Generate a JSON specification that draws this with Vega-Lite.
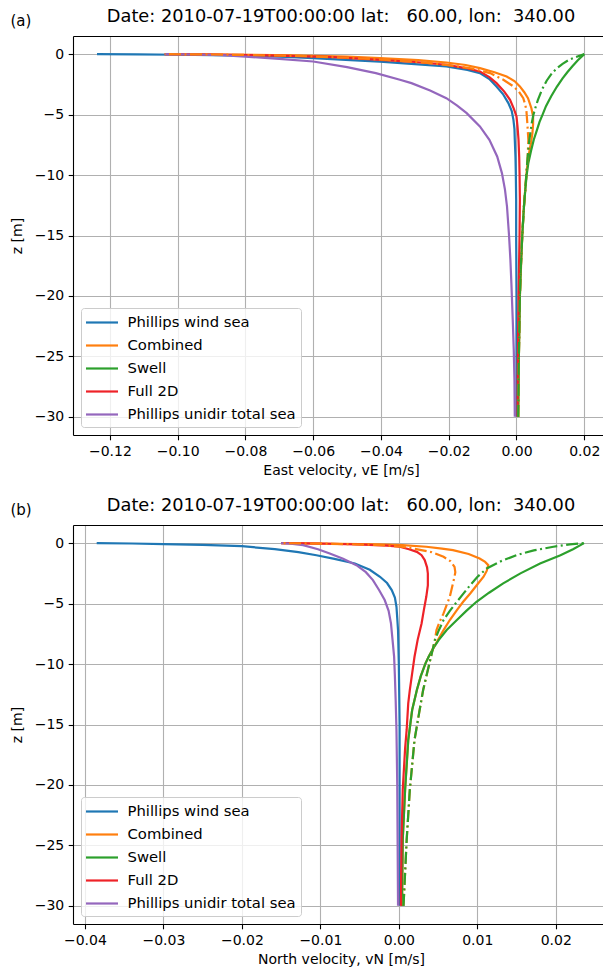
{
  "$schema": "https://vega.github.io/schema/vega-lite/v6.json",
  "autosize": {"type": "pad"},
  "padding": {"left": 10, "top": 8, "right": 0, "bottom": 0},
  "config": {
    "font": "DejaVu Sans",
    "view": {"stroke": null},
    "axis": {
      "labelFont": "DejaVu Sans", "labelFontSize": 14, "labelColor": "#000",
      "titleFont": "DejaVu Sans", "titleFontSize": 14, "titleFontWeight": "normal", "titleColor": "#000",
      "domainColor": "#000", "domainWidth": 1.1, "tickColor": "#000", "tickWidth": 1.1, "tickSize": 4.8,
      "labelPadding": 4.5, "gridColor": "#b0b0b0", "gridWidth": 1.1, "labelFlush": false, "labelOverlap": false
    },
    "legend": {
      "orient": "bottom-left", "offset": 8, "title": null,
      "fillColor": "rgba(255,255,255,0.8)", "strokeColor": "#cccccc", "cornerRadius": 3, "padding": 5,
      "symbolType": "M-2,0H2", "symbolSize": 256, "symbolStrokeWidth": 2.2, "symbolOffset": 6.5,
      "labelOffset": 16, "labelFont": "DejaVu Sans", "labelFontSize": 14.8, "labelColor": "#000", "labelLimit": 400,
      "rowPadding": 6
    },
    "title": {"font": "DejaVu Sans", "fontSize": 17.8, "fontWeight": "normal", "color": "#000"}
  },
  "datasets": {
    "a": [
      {"s":"Phillips wind sea","k":"solid","z":0,"v":-0.1238},
      {"s":"Phillips wind sea","k":"solid","z":-0.02,"v":-0.112},
      {"s":"Phillips wind sea","k":"solid","z":-0.05,"v":-0.100},
      {"s":"Phillips wind sea","k":"solid","z":-0.12,"v":-0.080},
      {"s":"Phillips wind sea","k":"solid","z":-0.22,"v":-0.068},
      {"s":"Phillips wind sea","k":"solid","z":-0.33,"v":-0.060},
      {"s":"Phillips wind sea","k":"solid","z":-0.5,"v":-0.049},
      {"s":"Phillips wind sea","k":"solid","z":-0.62,"v":-0.0403},
      {"s":"Phillips wind sea","k":"solid","z":-0.82,"v":-0.030},
      {"s":"Phillips wind sea","k":"solid","z":-1.02,"v":-0.0207},
      {"s":"Phillips wind sea","k":"solid","z":-1.3,"v":-0.0145},
      {"s":"Phillips wind sea","k":"solid","z":-1.57,"v":-0.0108},
      {"s":"Phillips wind sea","k":"solid","z":-2.06,"v":-0.0080},
      {"s":"Phillips wind sea","k":"solid","z":-2.68,"v":-0.0059},
      {"s":"Phillips wind sea","k":"solid","z":-3.3,"v":-0.0040},
      {"s":"Phillips wind sea","k":"solid","z":-4.05,"v":-0.0024},
      {"s":"Phillips wind sea","k":"solid","z":-4.7,"v":-0.0014},
      {"s":"Phillips wind sea","k":"solid","z":-5.43,"v":-0.0009},
      {"s":"Phillips wind sea","k":"solid","z":-6.2,"v":-0.0006},
      {"s":"Phillips wind sea","k":"solid","z":-7.08,"v":-0.0005},
      {"s":"Phillips wind sea","k":"solid","z":-8.5,"v":-0.0003},
      {"s":"Phillips wind sea","k":"solid","z":-9.84,"v":-0.0002},
      {"s":"Phillips wind sea","k":"solid","z":-12,"v":-0.0001},
      {"s":"Phillips wind sea","k":"solid","z":-15,"v":-0.0001},
      {"s":"Phillips wind sea","k":"solid","z":-20,"v":0.0},
      {"s":"Phillips wind sea","k":"solid","z":-25,"v":0.0},
      {"s":"Phillips wind sea","k":"solid","z":-30,"v":0.0},

      {"s":"Combined","k":"solid","z":0,"v":-0.1038},
      {"s":"Combined","k":"solid","z":-0.02,"v":-0.092},
      {"s":"Combined","k":"solid","z":-0.05,"v":-0.080},
      {"s":"Combined","k":"solid","z":-0.1,"v":-0.066},
      {"s":"Combined","k":"solid","z":-0.2,"v":-0.050},
      {"s":"Combined","k":"solid","z":-0.33,"v":-0.0403},
      {"s":"Combined","k":"solid","z":-0.5,"v":-0.029},
      {"s":"Combined","k":"solid","z":-0.69,"v":-0.0207},
      {"s":"Combined","k":"solid","z":-0.9,"v":-0.0150},
      {"s":"Combined","k":"solid","z":-1.16,"v":-0.0108},
      {"s":"Combined","k":"solid","z":-1.5,"v":-0.0065},
      {"s":"Combined","k":"solid","z":-1.85,"v":-0.0029},
      {"s":"Combined","k":"solid","z":-2.25,"v":-0.0005},
      {"s":"Combined","k":"solid","z":-2.67,"v":0.0010},
      {"s":"Combined","k":"solid","z":-3.15,"v":0.0023},
      {"s":"Combined","k":"solid","z":-3.64,"v":0.0034},
      {"s":"Combined","k":"solid","z":-4.47,"v":0.0044},
      {"s":"Combined","k":"solid","z":-5.15,"v":0.0049},
      {"s":"Combined","k":"solid","z":-5.8,"v":0.0049},
      {"s":"Combined","k":"solid","z":-6.53,"v":0.0047},
      {"s":"Combined","k":"solid","z":-7.3,"v":0.0043},
      {"s":"Combined","k":"solid","z":-8.2,"v":0.0037},
      {"s":"Combined","k":"solid","z":-9.0,"v":0.0033},
      {"s":"Combined","k":"solid","z":-10,"v":0.0029},
      {"s":"Combined","k":"solid","z":-12.6,"v":0.0022},
      {"s":"Combined","k":"solid","z":-15,"v":0.0017},
      {"s":"Combined","k":"solid","z":-20,"v":0.0010},
      {"s":"Combined","k":"solid","z":-25,"v":0.0007},
      {"s":"Combined","k":"solid","z":-30,"v":0.0005},

      {"s":"Swell","k":"solid","z":0,"v":0.0200},
      {"s":"Swell","k":"solid","z":-0.5,"v":0.0181},
      {"s":"Swell","k":"solid","z":-1.0,"v":0.0165},
      {"s":"Swell","k":"solid","z":-1.5,"v":0.0150},
      {"s":"Swell","k":"solid","z":-2.0,"v":0.0136},
      {"s":"Swell","k":"solid","z":-2.7,"v":0.0119},
      {"s":"Swell","k":"solid","z":-3.5,"v":0.0102},
      {"s":"Swell","k":"solid","z":-4.3,"v":0.0087},
      {"s":"Swell","k":"solid","z":-5.0,"v":0.0077},
      {"s":"Swell","k":"solid","z":-5.6,"v":0.0068},
      {"s":"Swell","k":"solid","z":-6.3,"v":0.0060},
      {"s":"Swell","k":"solid","z":-7.08,"v":0.0051},
      {"s":"Swell","k":"solid","z":-8.0,"v":0.0043},
      {"s":"Swell","k":"solid","z":-9.0,"v":0.0035},
      {"s":"Swell","k":"solid","z":-10,"v":0.0030},
      {"s":"Swell","k":"solid","z":-11.2,"v":0.0026},
      {"s":"Swell","k":"solid","z":-12.6,"v":0.0022},
      {"s":"Swell","k":"solid","z":-15,"v":0.0017},
      {"s":"Swell","k":"solid","z":-17.5,"v":0.0013},
      {"s":"Swell","k":"solid","z":-20,"v":0.0010},
      {"s":"Swell","k":"solid","z":-25,"v":0.0007},
      {"s":"Swell","k":"solid","z":-30,"v":0.0005},

      {"s":"Full 2D","k":"solid","z":0,"v":-0.1038},
      {"s":"Full 2D","k":"solid","z":-0.02,"v":-0.094},
      {"s":"Full 2D","k":"solid","z":-0.05,"v":-0.085},
      {"s":"Full 2D","k":"solid","z":-0.12,"v":-0.070},
      {"s":"Full 2D","k":"solid","z":-0.25,"v":-0.054},
      {"s":"Full 2D","k":"solid","z":-0.47,"v":-0.0403},
      {"s":"Full 2D","k":"solid","z":-0.65,"v":-0.030},
      {"s":"Full 2D","k":"solid","z":-0.88,"v":-0.0207},
      {"s":"Full 2D","k":"solid","z":-1.15,"v":-0.0150},
      {"s":"Full 2D","k":"solid","z":-1.43,"v":-0.0108},
      {"s":"Full 2D","k":"solid","z":-1.9,"v":-0.0080},
      {"s":"Full 2D","k":"solid","z":-2.4,"v":-0.0059},
      {"s":"Full 2D","k":"solid","z":-3.1,"v":-0.0036},
      {"s":"Full 2D","k":"solid","z":-3.78,"v":-0.0019},
      {"s":"Full 2D","k":"solid","z":-4.5,"v":-0.0008},
      {"s":"Full 2D","k":"solid","z":-5.15,"v":0.0},
      {"s":"Full 2D","k":"solid","z":-6.0,"v":0.0003},
      {"s":"Full 2D","k":"solid","z":-7.08,"v":0.0006},
      {"s":"Full 2D","k":"solid","z":-8.5,"v":0.0008},
      {"s":"Full 2D","k":"solid","z":-9.84,"v":0.0009},
      {"s":"Full 2D","k":"solid","z":-12,"v":0.0010},
      {"s":"Full 2D","k":"solid","z":-15,"v":0.0009},
      {"s":"Full 2D","k":"solid","z":-20,"v":0.0006},
      {"s":"Full 2D","k":"solid","z":-25,"v":0.0004},
      {"s":"Full 2D","k":"solid","z":-30,"v":0.0003},

      {"s":"Phillips unidir total sea","k":"solid","z":0,"v":-0.1038},
      {"s":"Phillips unidir total sea","k":"solid","z":-0.03,"v":-0.095},
      {"s":"Phillips unidir total sea","k":"solid","z":-0.08,"v":-0.087},
      {"s":"Phillips unidir total sea","k":"solid","z":-0.2,"v":-0.080},
      {"s":"Phillips unidir total sea","k":"solid","z":-0.39,"v":-0.070},
      {"s":"Phillips unidir total sea","k":"solid","z":-0.61,"v":-0.060},
      {"s":"Phillips unidir total sea","k":"solid","z":-1.08,"v":-0.050},
      {"s":"Phillips unidir total sea","k":"solid","z":-1.57,"v":-0.0415},
      {"s":"Phillips unidir total sea","k":"solid","z":-2.12,"v":-0.0344},
      {"s":"Phillips unidir total sea","k":"solid","z":-2.4,"v":-0.0310},
      {"s":"Phillips unidir total sea","k":"solid","z":-3.0,"v":-0.0255},
      {"s":"Phillips unidir total sea","k":"solid","z":-3.64,"v":-0.0207},
      {"s":"Phillips unidir total sea","k":"solid","z":-4.25,"v":-0.0175},
      {"s":"Phillips unidir total sea","k":"solid","z":-4.88,"v":-0.0147},
      {"s":"Phillips unidir total sea","k":"solid","z":-5.98,"v":-0.0108},
      {"s":"Phillips unidir total sea","k":"solid","z":-7.08,"v":-0.0080},
      {"s":"Phillips unidir total sea","k":"solid","z":-8.46,"v":-0.0057},
      {"s":"Phillips unidir total sea","k":"solid","z":-9.84,"v":-0.0043},
      {"s":"Phillips unidir total sea","k":"solid","z":-11.2,"v":-0.0034},
      {"s":"Phillips unidir total sea","k":"solid","z":-12.6,"v":-0.0028},
      {"s":"Phillips unidir total sea","k":"solid","z":-15,"v":-0.0022},
      {"s":"Phillips unidir total sea","k":"solid","z":-17,"v":-0.0018},
      {"s":"Phillips unidir total sea","k":"solid","z":-19,"v":-0.0015},
      {"s":"Phillips unidir total sea","k":"solid","z":-22,"v":-0.0011},
      {"s":"Phillips unidir total sea","k":"solid","z":-24.5,"v":-0.0008},
      {"s":"Phillips unidir total sea","k":"solid","z":-27,"v":-0.0006},
      {"s":"Phillips unidir total sea","k":"solid","z":-30,"v":-0.0005},

      {"s":"Combined","k":"dashdot","z":0,"v":-0.1038},
      {"s":"Combined","k":"dashdot","z":-0.03,"v":-0.090},
      {"s":"Combined","k":"dashdot","z":-0.08,"v":-0.077},
      {"s":"Combined","k":"dashdot","z":-0.15,"v":-0.064},
      {"s":"Combined","k":"dashdot","z":-0.3,"v":-0.050},
      {"s":"Combined","k":"dashdot","z":-0.45,"v":-0.040},
      {"s":"Combined","k":"dashdot","z":-0.7,"v":-0.027},
      {"s":"Combined","k":"dashdot","z":-0.95,"v":-0.019},
      {"s":"Combined","k":"dashdot","z":-1.2,"v":-0.013},
      {"s":"Combined","k":"dashdot","z":-1.57,"v":-0.0078},
      {"s":"Combined","k":"dashdot","z":-2.1,"v":-0.0040},
      {"s":"Combined","k":"dashdot","z":-2.67,"v":-0.0009},
      {"s":"Combined","k":"dashdot","z":-3.1,"v":0.0007},
      {"s":"Combined","k":"dashdot","z":-3.64,"v":0.0020},
      {"s":"Combined","k":"dashdot","z":-4.1,"v":0.0025},
      {"s":"Combined","k":"dashdot","z":-4.6,"v":0.0029},
      {"s":"Combined","k":"dashdot","z":-5.71,"v":0.0032},
      {"s":"Combined","k":"dashdot","z":-7.08,"v":0.0035},
      {"s":"Combined","k":"dashdot","z":-8.5,"v":0.0033},
      {"s":"Combined","k":"dashdot","z":-10,"v":0.0029},
      {"s":"Combined","k":"dashdot","z":-11.2,"v":0.0026},
      {"s":"Combined","k":"dashdot","z":-12.6,"v":0.0022},
      {"s":"Combined","k":"dashdot","z":-15,"v":0.0017},
      {"s":"Combined","k":"dashdot","z":-17.5,"v":0.0013},
      {"s":"Combined","k":"dashdot","z":-20,"v":0.0010},
      {"s":"Combined","k":"dashdot","z":-25,"v":0.0007},
      {"s":"Combined","k":"dashdot","z":-30,"v":0.0005},

      {"s":"Swell","k":"dashdot","z":0,"v":0.0200},
      {"s":"Swell","k":"dashdot","z":-0.1,"v":0.0190},
      {"s":"Swell","k":"dashdot","z":-0.25,"v":0.0174},
      {"s":"Swell","k":"dashdot","z":-0.47,"v":0.0155},
      {"s":"Swell","k":"dashdot","z":-0.8,"v":0.0136},
      {"s":"Swell","k":"dashdot","z":-1.2,"v":0.0118},
      {"s":"Swell","k":"dashdot","z":-1.57,"v":0.0105},
      {"s":"Swell","k":"dashdot","z":-2.2,"v":0.0089},
      {"s":"Swell","k":"dashdot","z":-2.95,"v":0.0075},
      {"s":"Swell","k":"dashdot","z":-3.8,"v":0.0063},
      {"s":"Swell","k":"dashdot","z":-4.33,"v":0.0057},
      {"s":"Swell","k":"dashdot","z":-5.0,"v":0.0050},
      {"s":"Swell","k":"dashdot","z":-5.71,"v":0.0045},
      {"s":"Swell","k":"dashdot","z":-7.08,"v":0.0038},
      {"s":"Swell","k":"dashdot","z":-8.5,"v":0.0033},
      {"s":"Swell","k":"dashdot","z":-10,"v":0.0029},
      {"s":"Swell","k":"dashdot","z":-11.2,"v":0.0026},
      {"s":"Swell","k":"dashdot","z":-12.6,"v":0.0022},
      {"s":"Swell","k":"dashdot","z":-15,"v":0.0017},
      {"s":"Swell","k":"dashdot","z":-17.5,"v":0.0013},
      {"s":"Swell","k":"dashdot","z":-20,"v":0.0010},
      {"s":"Swell","k":"dashdot","z":-25,"v":0.0007},
      {"s":"Swell","k":"dashdot","z":-30,"v":0.0005}
    ],
    "b": [
      {"s":"Phillips wind sea","k":"solid","z":0,"v":-0.0385},
      {"s":"Phillips wind sea","k":"solid","z":-0.03,"v":-0.0340},
      {"s":"Phillips wind sea","k":"solid","z":-0.08,"v":-0.0300},
      {"s":"Phillips wind sea","k":"solid","z":-0.15,"v":-0.0250},
      {"s":"Phillips wind sea","k":"solid","z":-0.25,"v":-0.0200},
      {"s":"Phillips wind sea","k":"solid","z":-0.5,"v":-0.0158},
      {"s":"Phillips wind sea","k":"solid","z":-0.75,"v":-0.0128},
      {"s":"Phillips wind sea","k":"solid","z":-1.0,"v":-0.0105},
      {"s":"Phillips wind sea","k":"solid","z":-1.3,"v":-0.0082},
      {"s":"Phillips wind sea","k":"solid","z":-1.68,"v":-0.0056},
      {"s":"Phillips wind sea","k":"solid","z":-2.2,"v":-0.0037},
      {"s":"Phillips wind sea","k":"solid","z":-2.78,"v":-0.0024},
      {"s":"Phillips wind sea","k":"solid","z":-3.3,"v":-0.0015},
      {"s":"Phillips wind sea","k":"solid","z":-3.88,"v":-0.0009},
      {"s":"Phillips wind sea","k":"solid","z":-4.5,"v":-0.0005},
      {"s":"Phillips wind sea","k":"solid","z":-5.26,"v":-0.0003},
      {"s":"Phillips wind sea","k":"solid","z":-6.2,"v":-0.0002},
      {"s":"Phillips wind sea","k":"solid","z":-7.19,"v":-0.0001},
      {"s":"Phillips wind sea","k":"solid","z":-10,"v":0.0},
      {"s":"Phillips wind sea","k":"solid","z":-15,"v":0.0001},
      {"s":"Phillips wind sea","k":"solid","z":-20,"v":0.0001},
      {"s":"Phillips wind sea","k":"solid","z":-30,"v":0.0001},

      {"s":"Combined","k":"solid","z":0,"v":-0.0150},
      {"s":"Combined","k":"solid","z":-0.02,"v":-0.0120},
      {"s":"Combined","k":"solid","z":-0.05,"v":-0.0075},
      {"s":"Combined","k":"solid","z":-0.1,"v":-0.0025},
      {"s":"Combined","k":"solid","z":-0.17,"v":0.0005},
      {"s":"Combined","k":"solid","z":-0.3,"v":0.0035},
      {"s":"Combined","k":"solid","z":-0.45,"v":0.0055},
      {"s":"Combined","k":"solid","z":-0.58,"v":0.0069},
      {"s":"Combined","k":"solid","z":-0.9,"v":0.0089},
      {"s":"Combined","k":"solid","z":-1.27,"v":0.0103},
      {"s":"Combined","k":"solid","z":-1.55,"v":0.0110},
      {"s":"Combined","k":"solid","z":-1.82,"v":0.0114},
      {"s":"Combined","k":"solid","z":-2.3,"v":0.0112},
      {"s":"Combined","k":"solid","z":-2.78,"v":0.0108},
      {"s":"Combined","k":"solid","z":-3.5,"v":0.0099},
      {"s":"Combined","k":"solid","z":-4.16,"v":0.0091},
      {"s":"Combined","k":"solid","z":-4.85,"v":0.0082},
      {"s":"Combined","k":"solid","z":-5.54,"v":0.0074},
      {"s":"Combined","k":"solid","z":-6.36,"v":0.0065},
      {"s":"Combined","k":"solid","z":-7.19,"v":0.0057},
      {"s":"Combined","k":"solid","z":-8.0,"v":0.0050},
      {"s":"Combined","k":"solid","z":-8.57,"v":0.0045},
      {"s":"Combined","k":"solid","z":-9.4,"v":0.0038},
      {"s":"Combined","k":"solid","z":-9.94,"v":0.0034},
      {"s":"Combined","k":"solid","z":-11,"v":0.0028},
      {"s":"Combined","k":"solid","z":-12.15,"v":0.0023},
      {"s":"Combined","k":"solid","z":-13.8,"v":0.0017},
      {"s":"Combined","k":"solid","z":-16.3,"v":0.0012},
      {"s":"Combined","k":"solid","z":-20.4,"v":0.0008},
      {"s":"Combined","k":"solid","z":-24.5,"v":0.0005},
      {"s":"Combined","k":"solid","z":-30,"v":0.0004},

      {"s":"Swell","k":"solid","z":0,"v":0.0236},
      {"s":"Swell","k":"solid","z":-0.5,"v":0.0222},
      {"s":"Swell","k":"solid","z":-1.0,"v":0.0206},
      {"s":"Swell","k":"solid","z":-1.68,"v":0.0180},
      {"s":"Swell","k":"solid","z":-2.5,"v":0.0155},
      {"s":"Swell","k":"solid","z":-3.33,"v":0.0133},
      {"s":"Swell","k":"solid","z":-4.1,"v":0.0115},
      {"s":"Swell","k":"solid","z":-4.85,"v":0.0099},
      {"s":"Swell","k":"solid","z":-5.6,"v":0.0086},
      {"s":"Swell","k":"solid","z":-6.36,"v":0.0074},
      {"s":"Swell","k":"solid","z":-7.19,"v":0.0061},
      {"s":"Swell","k":"solid","z":-8.0,"v":0.0051},
      {"s":"Swell","k":"solid","z":-8.57,"v":0.0045},
      {"s":"Swell","k":"solid","z":-9.4,"v":0.0038},
      {"s":"Swell","k":"solid","z":-9.94,"v":0.0034},
      {"s":"Swell","k":"solid","z":-11,"v":0.0028},
      {"s":"Swell","k":"solid","z":-12.15,"v":0.0023},
      {"s":"Swell","k":"solid","z":-13.8,"v":0.0017},
      {"s":"Swell","k":"solid","z":-16.3,"v":0.0012},
      {"s":"Swell","k":"solid","z":-20.4,"v":0.0008},
      {"s":"Swell","k":"solid","z":-24.5,"v":0.0005},
      {"s":"Swell","k":"solid","z":-30,"v":0.0004},

      {"s":"Full 2D","k":"solid","z":0,"v":-0.0150},
      {"s":"Full 2D","k":"solid","z":-0.02,"v":-0.0120},
      {"s":"Full 2D","k":"solid","z":-0.05,"v":-0.0090},
      {"s":"Full 2D","k":"solid","z":-0.12,"v":-0.0045},
      {"s":"Full 2D","k":"solid","z":-0.2,"v":-0.0015},
      {"s":"Full 2D","k":"solid","z":-0.3,"v":0.0001},
      {"s":"Full 2D","k":"solid","z":-0.5,"v":0.0013},
      {"s":"Full 2D","k":"solid","z":-0.72,"v":0.0023},
      {"s":"Full 2D","k":"solid","z":-1.0,"v":0.0029},
      {"s":"Full 2D","k":"solid","z":-1.4,"v":0.0033},
      {"s":"Full 2D","k":"solid","z":-2.0,"v":0.0036},
      {"s":"Full 2D","k":"solid","z":-2.51,"v":0.0037},
      {"s":"Full 2D","k":"solid","z":-3.5,"v":0.0037},
      {"s":"Full 2D","k":"solid","z":-4.44,"v":0.0035},
      {"s":"Full 2D","k":"solid","z":-5.5,"v":0.0032},
      {"s":"Full 2D","k":"solid","z":-6.64,"v":0.0029},
      {"s":"Full 2D","k":"solid","z":-8.0,"v":0.0024},
      {"s":"Full 2D","k":"solid","z":-9.4,"v":0.0020},
      {"s":"Full 2D","k":"solid","z":-10.77,"v":0.0017},
      {"s":"Full 2D","k":"solid","z":-12.15,"v":0.0014},
      {"s":"Full 2D","k":"solid","z":-13.25,"v":0.0012},
      {"s":"Full 2D","k":"solid","z":-15.45,"v":0.0010},
      {"s":"Full 2D","k":"solid","z":-17,"v":0.0008},
      {"s":"Full 2D","k":"solid","z":-20.4,"v":0.0005},
      {"s":"Full 2D","k":"solid","z":-24.5,"v":0.00035},
      {"s":"Full 2D","k":"solid","z":-30,"v":0.00026},

      {"s":"Phillips unidir total sea","k":"solid","z":0,"v":-0.0150},
      {"s":"Phillips unidir total sea","k":"solid","z":-0.05,"v":-0.0138},
      {"s":"Phillips unidir total sea","k":"solid","z":-0.17,"v":-0.0122},
      {"s":"Phillips unidir total sea","k":"solid","z":-0.5,"v":-0.0103},
      {"s":"Phillips unidir total sea","k":"solid","z":-0.85,"v":-0.0088},
      {"s":"Phillips unidir total sea","k":"solid","z":-1.3,"v":-0.0071},
      {"s":"Phillips unidir total sea","k":"solid","z":-1.82,"v":-0.0054},
      {"s":"Phillips unidir total sea","k":"solid","z":-2.4,"v":-0.0042},
      {"s":"Phillips unidir total sea","k":"solid","z":-3.06,"v":-0.0033},
      {"s":"Phillips unidir total sea","k":"solid","z":-3.9,"v":-0.0025},
      {"s":"Phillips unidir total sea","k":"solid","z":-4.71,"v":-0.0018},
      {"s":"Phillips unidir total sea","k":"solid","z":-5.6,"v":-0.0013},
      {"s":"Phillips unidir total sea","k":"solid","z":-6.64,"v":-0.0010},
      {"s":"Phillips unidir total sea","k":"solid","z":-8,"v":-0.0008},
      {"s":"Phillips unidir total sea","k":"solid","z":-9.39,"v":-0.0006},
      {"s":"Phillips unidir total sea","k":"solid","z":-11,"v":-0.0005},
      {"s":"Phillips unidir total sea","k":"solid","z":-13,"v":-0.0004},
      {"s":"Phillips unidir total sea","k":"solid","z":-15.45,"v":-0.0003},
      {"s":"Phillips unidir total sea","k":"solid","z":-20,"v":-0.0002},
      {"s":"Phillips unidir total sea","k":"solid","z":-25,"v":-0.00015},
      {"s":"Phillips unidir total sea","k":"solid","z":-30,"v":-0.0001},

      {"s":"Combined","k":"dashdot","z":0,"v":-0.0150},
      {"s":"Combined","k":"dashdot","z":-0.03,"v":-0.0115},
      {"s":"Combined","k":"dashdot","z":-0.08,"v":-0.0065},
      {"s":"Combined","k":"dashdot","z":-0.17,"v":-0.0020},
      {"s":"Combined","k":"dashdot","z":-0.3,"v":0.0003},
      {"s":"Combined","k":"dashdot","z":-0.44,"v":0.0018},
      {"s":"Combined","k":"dashdot","z":-0.75,"v":0.0042},
      {"s":"Combined","k":"dashdot","z":-1.13,"v":0.0057},
      {"s":"Combined","k":"dashdot","z":-1.5,"v":0.0066},
      {"s":"Combined","k":"dashdot","z":-1.96,"v":0.0071},
      {"s":"Combined","k":"dashdot","z":-2.4,"v":0.0072},
      {"s":"Combined","k":"dashdot","z":-2.78,"v":0.0071},
      {"s":"Combined","k":"dashdot","z":-3.6,"v":0.0068},
      {"s":"Combined","k":"dashdot","z":-4.44,"v":0.0065},
      {"s":"Combined","k":"dashdot","z":-5.1,"v":0.0061},
      {"s":"Combined","k":"dashdot","z":-5.81,"v":0.0057},
      {"s":"Combined","k":"dashdot","z":-6.5,"v":0.0052},
      {"s":"Combined","k":"dashdot","z":-7.19,"v":0.0048},
      {"s":"Combined","k":"dashdot","z":-8.02,"v":0.0046},
      {"s":"Combined","k":"dashdot","z":-9.39,"v":0.0041},
      {"s":"Combined","k":"dashdot","z":-10.77,"v":0.0036},
      {"s":"Combined","k":"dashdot","z":-12.15,"v":0.0031},
      {"s":"Combined","k":"dashdot","z":-14,"v":0.0026},
      {"s":"Combined","k":"dashdot","z":-16.28,"v":0.0020},
      {"s":"Combined","k":"dashdot","z":-20.41,"v":0.0014},
      {"s":"Combined","k":"dashdot","z":-24.55,"v":0.0010},
      {"s":"Combined","k":"dashdot","z":-30,"v":0.0006},

      {"s":"Swell","k":"dashdot","z":0,"v":0.0236},
      {"s":"Swell","k":"dashdot","z":-0.1,"v":0.0218},
      {"s":"Swell","k":"dashdot","z":-0.3,"v":0.0197},
      {"s":"Swell","k":"dashdot","z":-0.6,"v":0.0172},
      {"s":"Swell","k":"dashdot","z":-0.99,"v":0.0150},
      {"s":"Swell","k":"dashdot","z":-1.5,"v":0.0130},
      {"s":"Swell","k":"dashdot","z":-2.1,"v":0.0112},
      {"s":"Swell","k":"dashdot","z":-2.8,"v":0.0100},
      {"s":"Swell","k":"dashdot","z":-3.47,"v":0.0091},
      {"s":"Swell","k":"dashdot","z":-4.2,"v":0.0082},
      {"s":"Swell","k":"dashdot","z":-4.85,"v":0.0074},
      {"s":"Swell","k":"dashdot","z":-5.6,"v":0.0065},
      {"s":"Swell","k":"dashdot","z":-6.36,"v":0.0057},
      {"s":"Swell","k":"dashdot","z":-7.2,"v":0.0051},
      {"s":"Swell","k":"dashdot","z":-8.02,"v":0.0046},
      {"s":"Swell","k":"dashdot","z":-9.39,"v":0.0041},
      {"s":"Swell","k":"dashdot","z":-10.77,"v":0.0036},
      {"s":"Swell","k":"dashdot","z":-12.15,"v":0.0031},
      {"s":"Swell","k":"dashdot","z":-14,"v":0.0026},
      {"s":"Swell","k":"dashdot","z":-16.28,"v":0.0020},
      {"s":"Swell","k":"dashdot","z":-20.41,"v":0.0014},
      {"s":"Swell","k":"dashdot","z":-24.55,"v":0.0010},
      {"s":"Swell","k":"dashdot","z":-30,"v":0.0006}
    ]
  },
  "resolve": {"scale": {"color": "independent"}, "legend": {"color": "independent"}},
  "spacing": 19,
  "vconcat": [
    {
      "width": 530, "height": 399,
      "title": {"text": "Date: 2010-07-19T00:00:00 lat:\u00a0\u00a0\u00a060.00, lon:\u00a0\u00a0340.00", "anchor": "middle", "frame": "group", "dx": 3, "dy": 17, "offset": 4},
      "resolve": {"axis": {"x": "independent"}},
      "layer": [
        {
          "data": {"name": "a"},
          "transform": [{"filter": "datum.k == 'solid'"}],
          "mark": {"type": "line", "strokeWidth": 2.2, "clip": true},
          "encoding": {
            "x": {"field": "v", "type": "quantitative", "scale": {"domain": [-0.13088, 0.02553], "nice": false, "zero": false},
                  "axis": {"orient": "bottom", "values": [-0.12, -0.1, -0.08, -0.06, -0.04, -0.02, 0, 0.02], "format": ".2f", "title": "East velocity, vE [m/s]", "titleX": 268, "titleAlign": "center", "titlePadding": 5, "grid": true}},
            "y": {"field": "z", "type": "quantitative", "scale": {"domain": [-31.5, 1.5], "nice": false, "zero": false},
                  "axis": {"values": [0, -5, -10, -15, -20, -25, -30], "format": "d", "title": "z [m]", "titlePadding": 10, "grid": true}},
            "color": {"field": "s", "type": "nominal",
                      "scale": {"domain": ["Phillips wind sea", "Combined", "Swell", "Full 2D", "Phillips unidir total sea"], "range": ["#1f77b4", "#ff7f0e", "#2ca02c", "#ee2228", "#9467bd"]}},
            "order": {"field": "z", "type": "quantitative"}
          }
        },
        {
          "data": {"name": "a"},
          "transform": [{"filter": "datum.k == 'dashdot'"}],
          "mark": {"type": "line", "strokeWidth": 2.2, "strokeDash": [12, 3.5, 2, 3.5], "clip": true},
          "encoding": {
            "x": {"field": "v", "type": "quantitative",
                  "axis": {"orient": "top", "labels": false, "ticks": false, "grid": false, "domain": true, "title": "(a)", "titleX": -63, "titleY": -11, "titleAlign": "left", "titleBaseline": "alphabetic", "titleFontSize": 15, "titleAnchor": null}},
            "y": {"field": "z", "type": "quantitative"},
            "color": {"field": "s", "type": "nominal"},
            "order": {"field": "z", "type": "quantitative"}
          }
        }
      ]
    },
    {
      "width": 530, "height": 399,
      "title": {"text": "Date: 2010-07-19T00:00:00 lat:\u00a0\u00a0\u00a060.00, lon:\u00a0\u00a0340.00", "anchor": "middle", "frame": "group", "dx": 3, "dy": 17, "offset": 4},
      "resolve": {"axis": {"x": "independent"}},
      "layer": [
        {
          "data": {"name": "b"},
          "transform": [{"filter": "datum.k == 'solid'"}],
          "mark": {"type": "line", "strokeWidth": 2.2, "clip": true},
          "encoding": {
            "x": {"field": "v", "type": "quantitative", "scale": {"domain": [-0.04152, 0.02602], "nice": false, "zero": false},
                  "axis": {"orient": "bottom", "values": [-0.04, -0.03, -0.02, -0.01, 0, 0.01, 0.02], "format": ".2f", "title": "North velocity, vN [m/s]", "titleX": 268, "titleAlign": "center", "titlePadding": 5, "grid": true}},
            "y": {"field": "z", "type": "quantitative", "scale": {"domain": [-31.5, 1.5], "nice": false, "zero": false},
                  "axis": {"values": [0, -5, -10, -15, -20, -25, -30], "format": "d", "title": "z [m]", "titlePadding": 10, "grid": true}},
            "color": {"field": "s", "type": "nominal",
                      "scale": {"domain": ["Phillips wind sea", "Combined", "Swell", "Full 2D", "Phillips unidir total sea"], "range": ["#1f77b4", "#ff7f0e", "#2ca02c", "#ee2228", "#9467bd"]}},
            "order": {"field": "z", "type": "quantitative"}
          }
        },
        {
          "data": {"name": "b"},
          "transform": [{"filter": "datum.k == 'dashdot'"}],
          "mark": {"type": "line", "strokeWidth": 2.2, "strokeDash": [12, 3.5, 2, 3.5], "clip": true},
          "encoding": {
            "x": {"field": "v", "type": "quantitative",
                  "axis": {"orient": "top", "labels": false, "ticks": false, "grid": false, "domain": true, "title": "(b)", "titleX": -63, "titleY": -11, "titleAlign": "left", "titleBaseline": "alphabetic", "titleFontSize": 15, "titleAnchor": null}},
            "y": {"field": "z", "type": "quantitative"},
            "color": {"field": "s", "type": "nominal"},
            "order": {"field": "z", "type": "quantitative"}
          }
        }
      ]
    }
  ]
}
